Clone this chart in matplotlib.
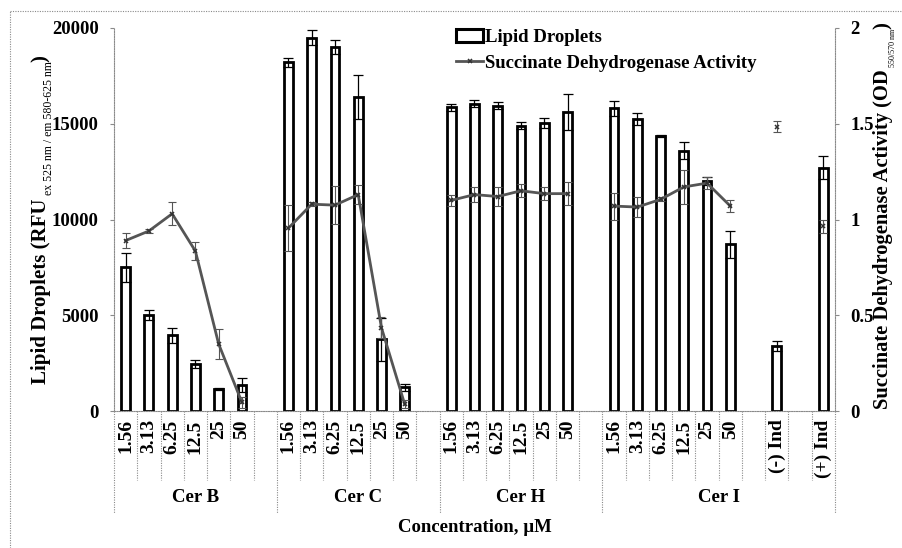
import numpy as np
import matplotlib
matplotlib.use("Agg")
import matplotlib.pyplot as plt
from matplotlib.patches import Patch
from matplotlib.lines import Line2D

nan = np.nan
# ---------------- data ----------------
tick_labels = ["1.56", "3.13", "6.25", "12.5", "25", "50", "",
               "1.56", "3.13", "6.25", "12.5", "25", "50", "",
               "1.56", "3.13", "6.25", "12.5", "25", "50", "",
               "1.56", "3.13", "6.25", "12.5", "25", "50", "",
               "(-) Ind", "", "(+) Ind"]
groups = ["Cer B", "Cer C", "Cer H", "Cer I"]
group_spans = [(-0.5, 6.5), (6.5, 13.5), (13.5, 20.5), (20.5, 30.5)]

lipid = [7500, 5000, 3950, 2450, 1170, 1360, nan,
         18200, 19500, 19000, 16400, 3750, 1230, nan,
         15850, 16050, 15950, 14900, 15050, 15600, nan,
         15800, 15250, 14350, 13600, 12000, 8700, nan,
         3400, nan, 12700]
lipid_err = [750, 250, 380, 200, 50, 380, nan,
             250, 380, 350, 1150, 1120, 200, nan,
             200, 200, 200, 200, 250, 950, nan,
             400, 300, 50, 430, 200, 690, nan,
             250, nan, 600]
sdh = [0.89, 0.94, 1.03, 0.835, 0.35, 0.045, nan,
       0.955, 1.08, 1.075, 1.13, 0.435, 0.035, nan,
       1.10, 1.13, 1.12, 1.15, 1.135, 1.135, nan,
       1.07, 1.065, 1.105, 1.17, 1.19, 1.07, nan,
       1.485, nan, 0.965]
sdh_err = [0.04, 0.01, 0.06, 0.045, 0.08, 0.03, nan,
           0.12, 0.01, 0.10, 0.05, 0.055, 0.02, nan,
           0.03, 0.04, 0.05, 0.035, 0.035, 0.06, nan,
           0.07, 0.05, 0.01, 0.09, 0.03, 0.03, nan,
           0.03, nan, 0.035]

left_ticks = [0, 5000, 10000, 15000, 20000]
right_ticks = [0, 0.5, 1, 1.5, 2]
right_tick_labels = ["0", "0.5", "1", "1.5", "2"]

# ---------------- style ----------------
plt.rcParams['font.family'] = ['Liberation Serif', 'DejaVu Serif']
plt.rcParams['font.weight'] = 'bold'

W, H = 903, 548
fig = plt.figure(figsize=(W / 100, H / 100), dpi=100)
L, R, B, T = 114, 835, 411, 28
ax = fig.add_axes([L / W, 1 - B / H, (R - L) / W, (B - T) / H])

x = np.arange(len(tick_labels))
gray = '#8a8a8a'
dot = (0, (1, 1.2))
line_col = '#555555'

ax.bar(x, lipid, width=0.38, color='white', edgecolor='black', linewidth=2.0, zorder=2)
ax.errorbar(x, lipid, yerr=lipid_err, fmt='none', ecolor='black', elinewidth=0.9,
            capsize=3.5, capthick=0.9, zorder=3)
ax.set_xlim(-0.5, 30.5)
ax.set_ylim(0, 20000)
ax.set_yticks(left_ticks)
ax.set_yticklabels([str(v) for v in left_ticks], fontsize=13.5, fontweight='bold')
ax.set_xticks(x)
ax.set_xticklabels(tick_labels, rotation=90, fontsize=14, fontweight='bold')
ax.tick_params(axis='x', length=0, pad=6)
ax.tick_params(axis='y', length=3, color=gray, pad=8)
for s in ['top', 'right']:
    ax.spines[s].set_visible(False)
for s in ['left', 'bottom']:
    ax.spines[s].set_color(gray)
    ax.spines[s].set_linestyle(dot)
    ax.spines[s].set_linewidth(0.8)

ax2 = ax.twinx()
ax2.errorbar(x, sdh, yerr=sdh_err, fmt='none', ecolor='#555555', elinewidth=0.8,
             capsize=3, capthick=0.8, zorder=3)
ax2.plot(x, sdh, color=line_col, linewidth=2.0, marker='x', markersize=3.5,
         markeredgewidth=1.1, markeredgecolor='#333333', zorder=4)
ax2.set_ylim(0, 2)
ax2.set_yticks(right_ticks)
ax2.set_yticklabels(right_tick_labels, fontsize=13.5, fontweight='bold')
ax2.tick_params(axis='y', length=3, color=gray, pad=8)
for s in ['top', 'left', 'bottom']:
    ax2.spines[s].set_visible(False)
ax2.spines['right'].set_color(gray)
ax2.spines['right'].set_linestyle(dot)
ax2.spines['right'].set_linewidth(0.8)

# category table separators below the axis
tr = ax.get_xaxis_transform()
long_b = {-0.5, 6.5, 13.5, 20.5, 30.5}
for b in np.arange(-0.5, 31.0, 1.0):
    y_end = -0.266 if b in long_b else -0.18
    ax.plot([b, b], [0, y_end], transform=tr, color=gray, linestyle=dot,
            linewidth=0.8, clip_on=False)
for name, (a, b) in zip(groups, group_spans):
    ax.text((a + b) / 2, -0.225, name, transform=tr, ha='center', va='center',
            fontsize=13.5, fontweight='bold')
ax.text(15, -0.303, "Concentration, µM", transform=tr, ha='center', va='center',
        fontsize=13.5, fontweight='bold')

# legend
handles = [Patch(facecolor='white', edgecolor='black', linewidth=2.2),
           Line2D([], [], color=line_col, linewidth=2.0, marker='x', markersize=3.5,
                  markeredgewidth=1.1, markeredgecolor='#333333')]
fig.legend(handles, ["Lipid Droplets", "Succinate Dehydrogenase Activity"],
           loc='upper left', bbox_to_anchor=(456 / W, 1 - 29 / H),
           bbox_transform=fig.transFigure, frameon=False,
           prop={'weight': 'bold', 'size': 13.5},
           handlelength=1.45, handletextpad=0.1, labelspacing=0.45, borderpad=0,
           borderaxespad=0)

# figure border (dotted)
fig.add_artist(Line2D([10 / W, 10 / W], [0, 1 - 11 / H], transform=fig.transFigure,
                      color=gray, linestyle=dot, linewidth=0.8))
fig.add_artist(Line2D([10 / W, 1], [1 - 11 / H, 1 - 11 / H], transform=fig.transFigure,
                      color=gray, linestyle=dot, linewidth=0.8))

# composed axis titles with subscripts
fig.canvas.draw()
rend = fig.canvas.get_renderer()


def compose(parts, x0, y0):
    y = y0
    for txt, size, weight, dx in parts:
        t = fig.text(x0 + dx / W, y, txt, rotation=90, fontsize=size, fontweight=weight,
                     ha='center', va='bottom')
        bb = t.get_window_extent(rend)
        y = bb.y1 / H


compose([("Lipid Droplets (RFU", 15, 'bold', 0),
         (" ex 525 nm / em 580-625 nm", 8.5, 'normal', 8),
         (")", 15, 'bold', 0)], 41 / W, 1 - 384 / H)
compose([("Succinate Dehydrogenase Activity (OD", 14.8, 'bold', 0),
         (" 550/570 nm", 5.8, 'normal', 10),
         (")", 14.8, 'bold', 0)], 883 / W, 1 - 409 / H)

fig.savefig("out.png", dpi=100)
